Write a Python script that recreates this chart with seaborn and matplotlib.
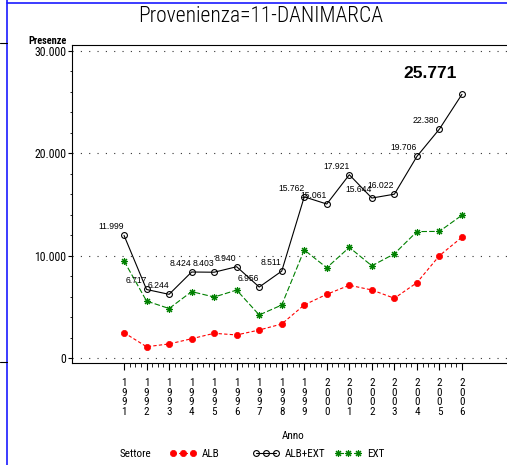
"""
折线图: Provenienza=11-DANIMARCA, 各年份 ALB / ALB+EXT / EXT 的 Presenze.
"""

# 导包
import matplotlib
matplotlib.use('Agg')
import numpy as np
import pandas as pd
import seaborn as sns
import matplotlib.pyplot as plt
from matplotlib.lines import Line2D
from matplotlib.ticker import FixedLocator, MultipleLocator, FuncFormatter

# 数据
anni = [1991, 1992, 1993, 1994, 1995, 1996, 1997, 1998,
        1999, 2000, 2001, 2002, 2003, 2004, 2005, 2006]
alb = [2500, 1130, 1400, 1910, 2440, 2280, 2760, 3350,
       5210, 6250, 7130, 6670, 5860, 7380, 10020, 11820]
alb_ext = [11999, 6717, 6244, 8424, 8403, 8940, 6956, 8511,
           15762, 15061, 17921, 15644, 16022, 19706, 22380, 25771]
ext = [9500, 5590, 4860, 6510, 5980, 6660, 4230, 5200,
       10580, 8840, 10830, 9030, 10200, 12370, 12390, 13970]
settori = ['ALB', 'ALB+EXT', 'EXT']
y_ticks = [0, 10000, 20000, 30000]

# 1. 风格 和 字体 (set_style 之后再设 font.family)
sns.set_style('ticks')
plt.rcParams['font.family'] = ['Roboto Condensed', 'DejaVu Sans']
plt.rcParams['axes.linewidth'] = 0.8
for k in ['text.color', 'axes.labelcolor', 'xtick.color', 'ytick.color', 'axes.edgecolor']:
    plt.rcParams[k] = 'black'

# 2. 画布 和 坐标轴 (位置按参考图的像素换算)
W, H = 507, 465
fig = plt.figure(figsize=(W / 100, H / 100), dpi=100)
ax = fig.add_axes([72 / W, (H - 362.7) / H, (W - 72) / W, (362.7 - 45) / H])

df = pd.DataFrame({'Anno': anni, 'ALB': alb, 'ALB+EXT': alb_ext, 'EXT': ext})

# 3. 三条折线 (seaborn 默认 marker 边框是白色, 这里显式指定)
stile = {
    'ALB': dict(color='#ff0000', marker='o', markersize=4.5, markeredgewidth=0.5,
                markeredgecolor='#ff0000', linestyle=(0, (3, 2))),
    'ALB+EXT': dict(color='black', marker='o', markersize=4.2, markerfacecolor='none',
                    markeredgecolor='black', markeredgewidth=0.8, linestyle='-'),
    'EXT': dict(color='#008000', marker=(8, 2, 0), markersize=5, markeredgewidth=0.8,
                markeredgecolor='#008000', linestyle=(0, (5, 2))),
}
for s in ['EXT', 'ALB', 'ALB+EXT']:
    sns.lineplot(data=df, x='Anno', y=s, ax=ax, linewidth=0.8, legend=False, **stile[s])

# 4. 数值标签 (最后一个加粗放大)
for x, v in zip(anni[:-1], alb_ext[:-1]):
    ax.annotate(f'{v:,}'.replace(',', '.'), (x, v), xytext=(0, 8.5), textcoords='offset pixels',
                ha='right', va='center', fontsize=6.2, family='Liberation Sans')
ax.annotate(f'{alb_ext[-1]:,}'.replace(',', '.'), (anni[-1], alb_ext[-1]), xytext=(-5, 21),
            textcoords='offset pixels', ha='right', va='center', fontsize=12.5,
            family='Liberation Sans', fontweight='bold')

# 5. 坐标轴范围 和 刻度
ax.set_xlim(1988.69, 2008.0)
ax.set_ylim(-430, 30586)
ax.set_xticks(anni)
ax.set_xticklabels(['\n'.join(str(a)) for a in anni], linespacing=0.95, fontsize=8)
ax.xaxis.set_minor_locator(FixedLocator([a for a in np.arange(anni[0], anni[-1] + 0.01, 0.25)
                                         if a not in anni]))
ax.set_yticks(y_ticks)
ax.yaxis.set_major_formatter(FuncFormatter(lambda v, p: f'{v:,.0f}'.replace(',', '.')))
ax.yaxis.set_minor_locator(MultipleLocator(2000))
ax.tick_params(axis='x', which='major', length=5, width=0.8, pad=6, labelsize=8)
ax.tick_params(axis='x', which='minor', length=3, width=0.6)
ax.tick_params(axis='y', which='major', length=3, width=0.8, pad=1, labelsize=8.5)
ax.tick_params(axis='y', which='minor', length=1.6, width=0.6)
ax.spines['right'].set_visible(False)

# 6. 虚线网格 (只在主刻度)
for y in y_ticks:
    ax.axhline(y, color='#333333', linewidth=0.8, linestyle=(0, (1, 6.5)), zorder=0)

# 7. 轴标题
ax.set_ylabel('')
ax.set_xlabel('Anno', fontsize=8, va='center')
ax.xaxis.set_label_coords((293 - 72) / (W - 72), (362.7 - 436) / (362.7 - 45))
fig.text(67 / W, 1 - 41.5 / H, 'Presenze', ha='right', va='center', fontsize=7.5, fontweight='bold')

# 8. 标题
fig.text(260.5 / W, 1 - 16.7 / H, 'Provenienza=11-DANIMARCA', ha='center', va='center',
         fontsize=15.5, fontweight='light')

# 9. 图例: Settore + 三个独立的图例项
fig.text(120 / W, 1 - 454 / H, 'Settore', ha='left', va='center', fontsize=8)
for s, x0 in zip(settori, [170, 253, 335]):
    h = Line2D([], [], linewidth=0.8, **stile[s])
    fig.legend([h], [s], loc='center left', bbox_to_anchor=(x0 / W, 1 - 454 / H),
               numpoints=3, handlelength=2.4, handletextpad=0.5, borderpad=0,
               borderaxespad=0, frameon=False, fontsize=8)

# 10. 外框装饰线 (蓝色页边线)
fig.add_artist(Line2D([7.3 / W, 1], [1 - 2.7 / H, 1 - 2.7 / H], color='#1a1aff', linewidth=1.2))
fig.add_artist(Line2D([7.3 / W, 7.3 / W], [0, 1], color='#1a1aff', linewidth=1.2))
fig.add_artist(Line2D([0, 7.3 / W], [1 - 43 / H, 1 - 43 / H], color='black', linewidth=0.8))
fig.add_artist(Line2D([0, 7.3 / W], [1 - 362 / H, 1 - 362 / H], color='black', linewidth=0.8))

fig.savefig('out.png', dpi=100)
